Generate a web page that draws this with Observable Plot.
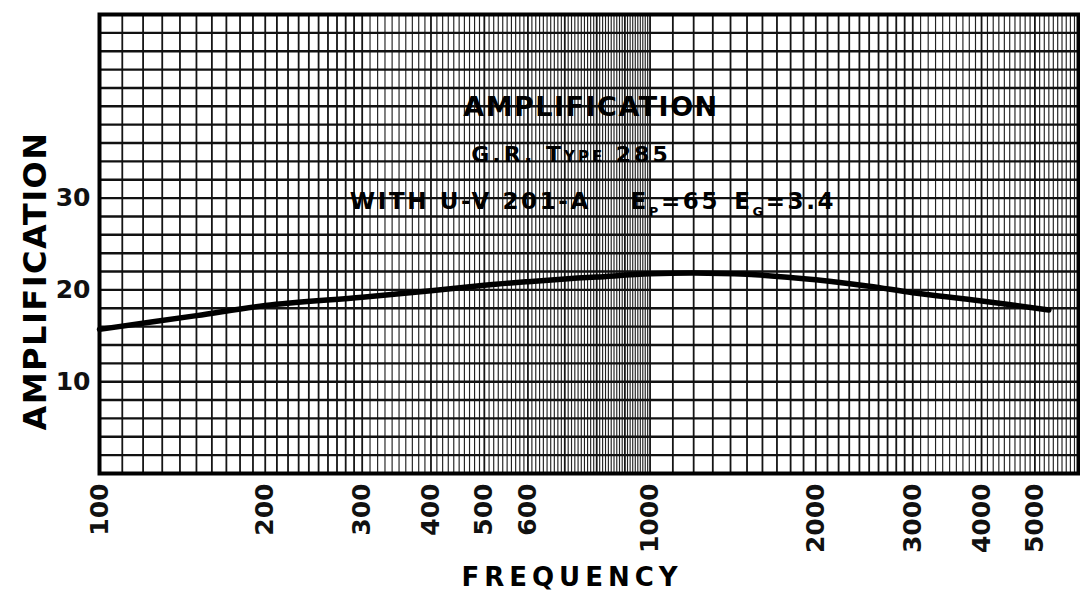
<!DOCTYPE html>
<html><head><meta charset="utf-8">
<script src="https://cdn.jsdelivr.net/npm/d3@7"></script>
<script src="https://cdn.jsdelivr.net/npm/@observablehq/plot@0.6"></script>
<style>
html,body{margin:0;padding:0;background:#fff;}
</style></head><body><div id="chart"></div>
<script>
// Data
const frequency = [100, 150, 200, 300, 400, 500, 600, 700, 800, 1000, 1200, 1500, 2000, 2500, 3000, 4000, 5300];
const amplification = [15.7, 17.2, 18.3, 19.2, 19.9, 20.5, 20.9, 21.2, 21.4, 21.75, 21.85, 21.7, 21.1, 20.4, 19.7, 18.8, 17.8];
const xTickLabels = [100, 200, 300, 400, 500, 600, 800, 1000, 2000, 3000, 4000, 5000];
const yTickLabels = [10, 20, 30];
const titleText = "AMPLIFICATION";
const subtitleText = "G.R. Type 285";
const conditionText = "WITH U-V 201-A   EP=65  EG=3.4";
const xLabel = "FREQUENCY";
const yLabel = "AMPLIFICATION";

const points = frequency.map((f, i) => ({f, a: amplification[i]}));

// graph-paper rulings (log paper: tens up to 1000, hundreds above)
const gridX = [...d3.range(110, 1000, 10), ...d3.range(1000, 6000, 100)];
const gridY = d3.range(2, 50, 2);
const sparse = v => (v < 300) || (v >= 1000 && v < 3000) || (v % 100 === 0 && v < 1000) || (v % 1000 === 0);

const font = "'DejaVu Sans', sans-serif";

const chart = Plot.plot({
  width: 1080,
  height: 593,
  marginLeft: 99,
  marginRight: 2,
  marginTop: 14,
  marginBottom: 120,
  style: {fontFamily: font, fontWeight: "bold", fontSize: "25px", color: "#111", background: "#fff"},
  x: {type: "log", domain: [100, 6000]},
  y: {domain: [0, 50]},
  marks: [
    Plot.ruleX(gridX.filter(sparse), {stroke: "#151515", strokeWidth: 1.8}),
    Plot.ruleX(gridX.filter(v => !sparse(v)), {stroke: "#222", strokeWidth: 1.15}),
    Plot.ruleY(gridY, {stroke: "#111", strokeWidth: 2.4}),
    Plot.axisX({ticks: xTickLabels, tickFormat: d => String(d), tickRotate: -90, tickSize: 0, tickPadding: 10, label: null, fontSize: 25, fontWeight: "bold"}),
    Plot.axisY({ticks: yTickLabels, tickSize: 0, tickPadding: 9, label: null, fontSize: 25, fontWeight: "bold"}),
    Plot.line(points, {x: "f", y: "a", curve: "catmull-rom", stroke: "#000", strokeWidth: 5.5}),
    Plot.frame({stroke: "#000", strokeWidth: 4}),
    Plot.text([titleText], {text: d => d, frameAnchor: "top", dx: 2, dy: 82, fontSize: 27, fontWeight: "bold", fill: "#000"}),
    Plot.text([subtitleText], {text: d => d, frameAnchor: "top", dx: -18, dy: 132, fontSize: 22, fontWeight: "bold", fontVariant: "small-caps", fill: "#000"}),
    Plot.text([conditionText], {text: d => d, frameAnchor: "top", dx: 4, dy: 178, fontSize: 23, fontWeight: "bold", fill: "#000"}),
    Plot.text([yLabel], {text: d => d, frameAnchor: "left", textAnchor: "middle", dx: -64, dy: 37, rotate: -90, fontSize: 32, fontWeight: "bold", fill: "#000"}),
    Plot.text([xLabel], {text: d => d, frameAnchor: "bottom", dx: -17, dy: 112, fontSize: 26, fontWeight: "bold", fill: "#000"})
  ]
});

// typographic touches: subscripts and letter spacing
chart.querySelectorAll("text").forEach(t => {
  const s = t.textContent;
  if (s === conditionText) {
    t.innerHTML = 'WITH U-V 201-A\u2003\u2002E<tspan dy="7" font-size="13">P</tspan><tspan dy="-7">=65\u2002E</tspan><tspan dy="7" font-size="13">G</tspan><tspan dy="-7">=3.4</tspan>';
    t.setAttribute("letter-spacing", "2.6");
  } else if (s === xLabel) {
    t.setAttribute("letter-spacing", "5");
  } else if (s === subtitleText) {
    t.setAttribute("letter-spacing", "3");
  } else if (s === yLabel) {
    t.setAttribute("letter-spacing", "1.5");
  } else if (s === titleText) {
    t.setAttribute("letter-spacing", "1.5");
  }
});

document.getElementById("chart").appendChild(chart);
</script>
</body></html>
